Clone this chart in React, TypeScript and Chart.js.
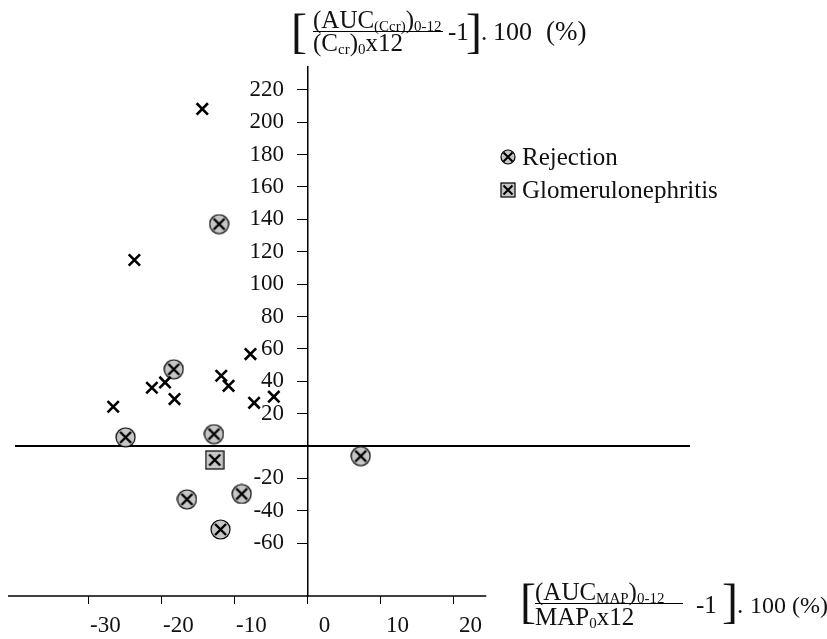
import React, { useEffect, useRef } from "react";
import { Chart, registerables } from "chart.js";

Chart.register(...registerables);

// ---- data ----
const xTickValues = [-30, -20, -10, 0, 10, 20];
const yTickValues = [-60, -40, -20, 0, 20, 40, 60, 80, 100, 120, 140, 160, 180, 200, 220];

const otherX = [-26.6, -21.3, -19.5, -18.2, -11.8, -10.8, -7.8, -7.3, -4.6, -14.4, -23.7];
const otherY = [24.3, 36.0, 39.3, 29.0, 43.4, 37.2, 56.8, 26.7, 30.5, 208.2, 114.9];

const rejectionX = [-12.1, -18.3, -24.9, -12.8, 7.3, -16.5, -9.0, -11.9];
const rejectionY = [137.1, 47.4, 5.4, 7.4, -6.2, -32.9, -29.6, -51.5];

const gnX = [-12.7];
const gnY = [-8.6];

const legendLabels = ["Rejection", "Glomerulonephritis"];

const X_MIN = -40.05;
const X_MAX = 52.4;
const X_AXIS_END = 24.5;
const Y_MIN = -92.6;
const Y_MAX = 234.1;
const Y_LABEL_AT = -3.2;

const FONT = '"Liberation Serif", "Times New Roman", serif';

function makeMarker(shape: "circle" | "square", size: number, cross: number, lw: number) {
  const c = document.createElement("canvas");
  c.width = size;
  c.height = size;
  const g = c.getContext("2d")!;
  const m = size / 2;
  g.fillStyle = "#c6c6c6";
  g.strokeStyle = "#000";
  g.lineWidth = 1.2;
  if (shape === "circle") {
    g.beginPath();
    g.arc(m, m, m - 1, 0, Math.PI * 2);
    g.fill();
    g.stroke();
  } else {
    g.fillRect(1, 1, size - 2, size - 2);
    g.strokeRect(1, 1, size - 2, size - 2);
  }
  g.lineWidth = lw;
  const h = cross / 2;
  g.beginPath();
  g.moveTo(m - h, m - h);
  g.lineTo(m + h, m + h);
  g.moveTo(m + h, m - h);
  g.lineTo(m - h, m + h);
  g.stroke();
  return c;
}

type Piece = { t: string; size: number; dy?: number };

function drawPieces(ctx: CanvasRenderingContext2D, x: number, y: number, pieces: Piece[]) {
  let cx = x;
  for (const p of pieces) {
    ctx.font = `${p.size}px ${FONT}`;
    ctx.fillText(p.t, cx, y + (p.dy || 0));
    cx += ctx.measureText(p.t).width;
  }
  return cx;
}

export default function App() {
  const ref = useRef<HTMLCanvasElement | null>(null);

  useEffect(() => {
    if (!ref.current) return;
    const circleMarker = makeMarker("circle", 21, 11, 2.4);
    const squareMarker = makeMarker("square", 20, 11, 2.4);
    const circleLegend = makeMarker("circle", 16, 9, 2);
    const squareLegend = makeMarker("square", 16, 9, 2);

    const annotations = {
      id: "annotations",
      afterDraw(chart: any) {
        const ctx = chart.ctx as CanvasRenderingContext2D;
        const xs = chart.scales.x;
        const area = chart.chartArea;
        ctx.save();
        // bottom axis line
        ctx.strokeStyle = "#000";
        ctx.lineWidth = 1.5;
        ctx.beginPath();
        ctx.moveTo(area.left - 7, area.bottom);
        ctx.lineTo(xs.getPixelForValue(X_AXIS_END), area.bottom);
        ctx.stroke();

        ctx.fillStyle = "#111";
        ctx.textBaseline = "alphabetic";
        ctx.textAlign = "left";

        // top (y-axis) label
        drawPieces(ctx, 291, 47, [{ t: "[", size: 48 }]);
        const nEnd = drawPieces(ctx, 313, 28, [
          { t: "(AUC", size: 25 },
          { t: "(Ccr)", size: 15, dy: 3 },
          { t: ")", size: 25 },
          { t: "0-12", size: 15, dy: 3 },
        ]);
        ctx.lineWidth = 1;
        ctx.beginPath();
        ctx.moveTo(313, 31.5);
        ctx.lineTo(Math.max(nEnd, 443), 31.5);
        ctx.stroke();
        drawPieces(ctx, 313, 51, [
          { t: "(C", size: 25 },
          { t: "cr", size: 15, dy: 3 },
          { t: ")", size: 25 },
          { t: "0", size: 15, dy: 3 },
          { t: "x12", size: 25 },
        ]);
        drawPieces(ctx, 448, 40, [{ t: "-1", size: 25 }]);
        drawPieces(ctx, 466, 47, [{ t: "]", size: 48 }]);
        drawPieces(ctx, 481, 40, [{ t: ".", size: 25 }]);
        drawPieces(ctx, 493, 40, [{ t: "100", size: 26 }]);
        drawPieces(ctx, 546, 40, [{ t: "(%)", size: 27 }]);

        // bottom-right (x-axis) label
        drawPieces(ctx, 520, 617, [{ t: "[", size: 48 }]);
        const n2End = drawPieces(ctx, 535, 600, [
          { t: "(AUC", size: 25 },
          { t: "MAP", size: 15, dy: 3 },
          { t: ")", size: 25 },
          { t: "0-12", size: 15, dy: 3 },
        ]);
        ctx.beginPath();
        ctx.moveTo(535, 603.5);
        ctx.lineTo(Math.max(n2End, 683), 603.5);
        ctx.stroke();
        drawPieces(ctx, 535, 625, [
          { t: "MAP", size: 25 },
          { t: "0", size: 15, dy: 3 },
          { t: "x12", size: 25 },
        ]);
        drawPieces(ctx, 696, 613, [{ t: "-1", size: 25 }]);
        drawPieces(ctx, 722, 617, [{ t: "]", size: 48 }]);
        drawPieces(ctx, 737, 613, [{ t: ".", size: 25 }]);
        drawPieces(ctx, 750, 613, [{ t: "100 (%)", size: 24 }]);

        // legend
        ctx.drawImage(circleLegend, 508 - 8, 157 - 8);
        ctx.drawImage(squareLegend, 508 - 8, 190 - 8);
        ctx.textBaseline = "middle";
        ctx.font = `25px ${FONT}`;
        ctx.fillText(legendLabels[0], 522, 158);
        ctx.fillText(legendLabels[1], 522, 191);
        ctx.restore();
      },
    };

    const yTicksFn = (s: any) => {
      s.ticks = yTickValues.map((v) => ({ value: v }));
    };

    const chart = new Chart(ref.current, {
      type: "scatter",
      data: {
        datasets: [
          {
            label: "other",
            data: otherX.map((x, i) => ({ x, y: otherY[i] })),
            pointStyle: "crossRot",
            pointRadius: 8,
            borderColor: "#000",
            borderWidth: 2.6,
            xAxisID: "x",
            yAxisID: "y",
          },
          {
            label: legendLabels[0],
            data: rejectionX.map((x, i) => ({ x, y: rejectionY[i] })),
            pointStyle: circleMarker as any,
            pointRadius: 10,
            xAxisID: "x",
            yAxisID: "y",
          },
          {
            label: legendLabels[1],
            data: gnX.map((x, i) => ({ x, y: gnY[i] })),
            pointStyle: squareMarker as any,
            pointRadius: 10,
            xAxisID: "x",
            yAxisID: "y",
          },
        ],
      },
      options: {
        animation: false,
        responsive: true,
        maintainAspectRatio: false,
        layout: { padding: { left: 15, right: 137, top: 67, bottom: 0 } },
        plugins: {
          legend: { display: false },
          tooltip: { enabled: false },
          title: { display: false },
        },
        scales: {
          x: {
            type: "linear",
            min: X_MIN,
            max: X_MAX,
            afterBuildTicks: (s: any) => {
              s.ticks = xTickValues.map((v) => ({ value: v }));
            },
            afterFit: (s: any) => {
              s.height = 43;
            },
            grid: {
              drawOnChartArea: false,
              drawTicks: true,
              tickLength: 8,
              color: "#000",
              lineWidth: 1,
            },
            border: { display: false },
            ticks: {
              callback: (v: any) => String(v),
              font: { family: FONT, size: 23 },
              color: "#111",
              padding: 8,
              labelOffset: 17,
              maxRotation: 0,
              autoSkip: false,
            },
          },
          y: {
            type: "linear",
            min: Y_MIN,
            max: Y_MAX,
            position: { x: 0 } as any,
            afterBuildTicks: yTicksFn,
            afterFit: (s: any) => {
              s.width = 0;
            },
            grid: {
              drawOnChartArea: true,
              drawTicks: true,
              tickLength: 10,
              color: (c: any) => (c.tick && c.tick.value === 0 ? "#000" : "rgba(0,0,0,0)"),
              lineWidth: (c: any) => (c.tick && c.tick.value === 0 ? 2 : 1),
              tickColor: (c: any) => (c.tick && c.tick.value === 0 ? "rgba(0,0,0,0)" : "#000"),
            },
            border: { display: true, color: "#000", width: 1.5 },
            ticks: { display: false },
          },
          yLabels: {
            type: "linear",
            min: Y_MIN,
            max: Y_MAX,
            position: { x: Y_LABEL_AT } as any,
            afterBuildTicks: yTicksFn,
            afterFit: (s: any) => {
              s.width = 0;
            },
            grid: { display: false },
            border: { display: false },
            ticks: {
              callback: (v: any) => (v === 0 ? "" : String(v)),
              font: { family: FONT, size: 23 },
              color: "#111",
              autoSkip: false,
            },
          },
        },
      },
      plugins: [annotations],
    });
    return () => chart.destroy();
  }, []);

  return (
    <div style={{ position: "fixed", left: 0, top: 0, width: 827, height: 639, background: "#fff" }}>
      <canvas ref={ref} />
    </div>
  );
}
